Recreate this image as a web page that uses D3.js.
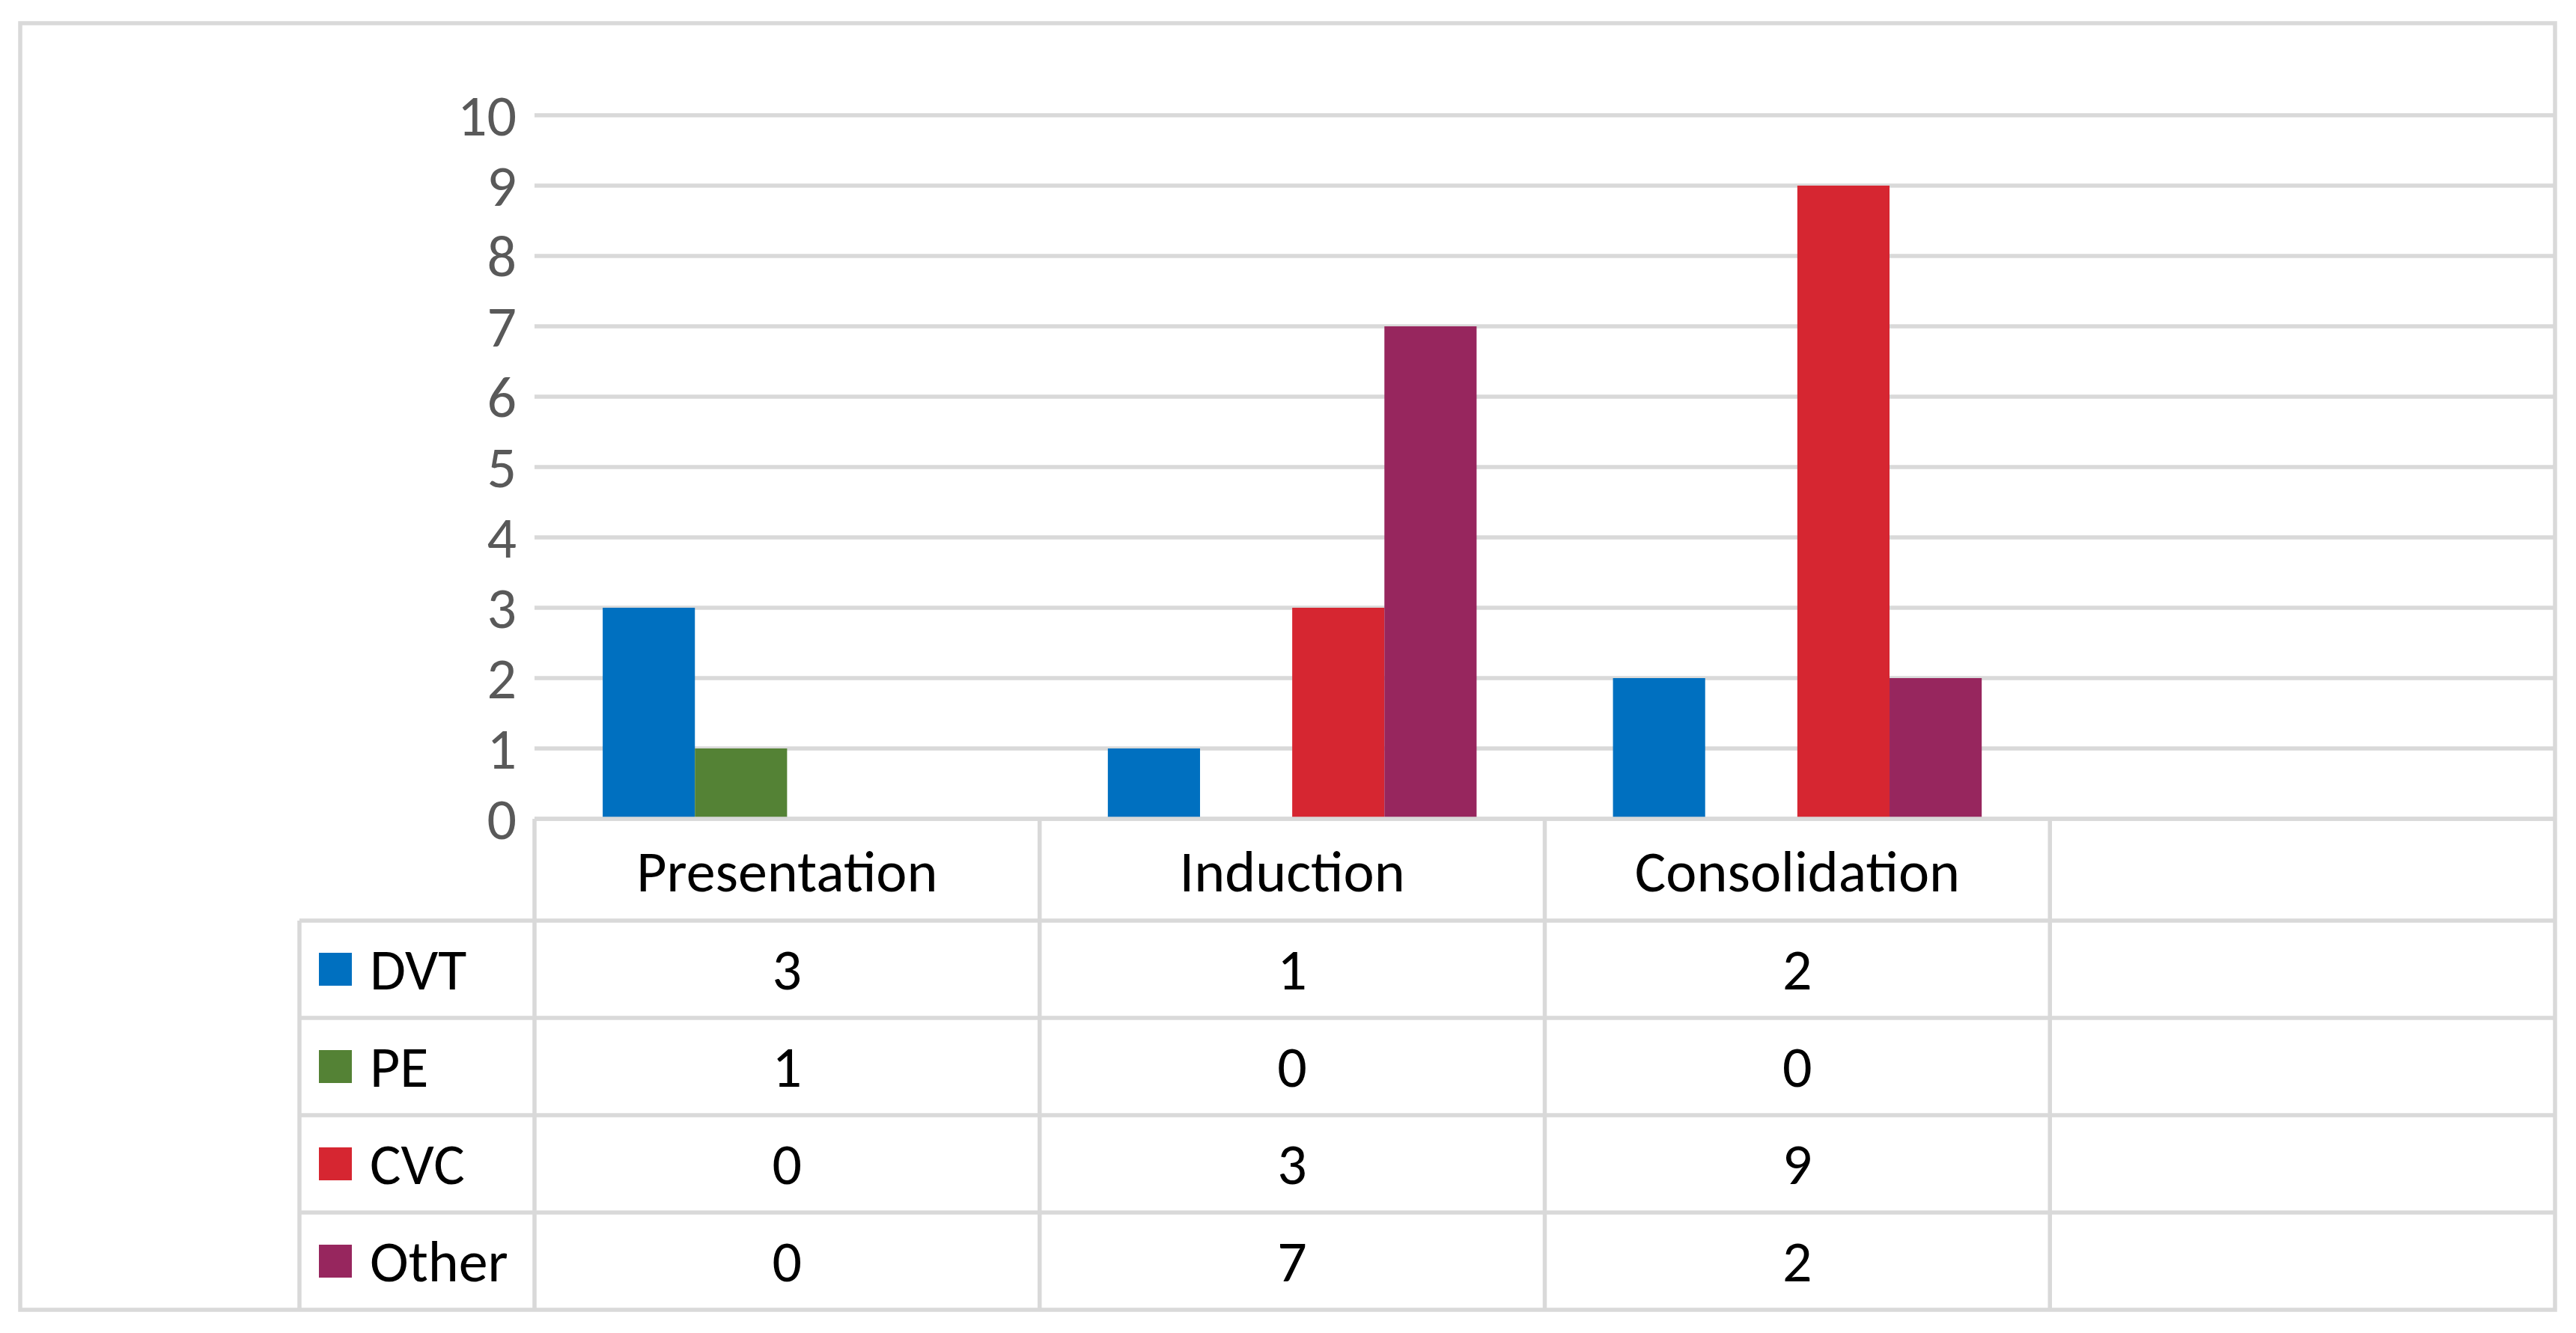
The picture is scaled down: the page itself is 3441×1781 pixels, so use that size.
<!DOCTYPE html>
<html>
<head>
<meta charset="utf-8">
<script src="https://cdn.jsdelivr.net/npm/d3@7"></script>
<style>
  html, body { margin: 0; padding: 0; background: #ffffff; }
  svg { display: block; }
  text { font-family: Carlito, Lato, "Open Sans", sans-serif; }
</style>
</head>
<body>
<script>
// ---------- data ----------
const categories = ["Presentation", "Induction", "Consolidation", ""];
const seriesNames = ["DVT", "PE", "CVC", "Other"];
const seriesColors = ["#0070C0", "#548235", "#D62631", "#97265E"];
const dvtValues   = [3, 1, 2];
const peValues    = [1, 0, 0];
const cvcValues   = [0, 3, 9];
const otherValues = [0, 7, 2];
const yTicks = [0, 1, 2, 3, 4, 5, 6, 7, 8, 9, 10];

const seriesValues = [dvtValues, peValues, cvcValues, otherValues];

// ---------- layout ----------
const W = 3441, H = 1781;
const frame = { left: 27, top: 31, right: 3413, bottom: 1750 };
const plot = { left: 714, top: 154, bottom: 1094 };
const legendLeft = 400;
const headerBottom = 1230;
const gridColor = "#d9d9d9";
const gridWidth = 5.5;
const fontSize = 78;

const svg = d3.select("body").append("svg")
  .attr("width", W).attr("height", H)
  .attr("viewBox", `0 0 ${W} ${H}`);

svg.append("rect").attr("width", W).attr("height", H).attr("fill", "#fff");

const x = d3.scaleBand().domain(categories).range([plot.left, frame.right]).padding(0);
const inner = d3.scaleBand().domain(seriesNames)
  .range([x.bandwidth() * 0.135, x.bandwidth() * 0.865]).padding(0);
const y = d3.scaleLinear().domain([0, 10]).range([plot.bottom, plot.top]);

// gridlines
svg.append("g").selectAll("line").data(yTicks).join("line")
  .attr("x1", plot.left).attr("x2", frame.right)
  .attr("y1", d => y(d)).attr("y2", d => y(d))
  .attr("stroke", gridColor).attr("stroke-width", gridWidth);

// y tick labels
svg.append("g").selectAll("text").data(yTicks).join("text")
  .attr("x", 690).attr("y", d => y(d))
  .attr("text-anchor", "end").attr("dominant-baseline", "central")
  .attr("font-size", fontSize).attr("fill", "#595959")
  .text(d => d);

// bars
const data = [];
seriesNames.forEach((s, si) => {
  seriesValues[si].forEach((v, ci) => {
    data.push({ cat: categories[ci], series: s, value: v, color: seriesColors[si] });
  });
});
svg.append("g").selectAll("rect").data(data.filter(d => d.value > 0)).join("rect")
  .attr("x", d => x(d.cat) + inner(d.series))
  .attr("width", inner.bandwidth())
  .attr("y", d => y(d.value))
  .attr("height", d => y(0) - y(d.value))
  .attr("fill", d => d.color);

// ---------- data table ----------
const rowScale = d3.scaleBand().domain(seriesNames).range([headerBottom, frame.bottom]).padding(0);
const tbl = svg.append("g").attr("stroke", gridColor).attr("stroke-width", gridWidth);

// axis line (top of table)
tbl.append("line").attr("x1", plot.left).attr("x2", frame.right)
  .attr("y1", y(0)).attr("y2", y(0));
// header bottom + row lines
tbl.selectAll("line.row").data(seriesNames).join("line").attr("class", "row")
  .attr("x1", legendLeft).attr("x2", frame.right)
  .attr("y1", d => rowScale(d)).attr("y2", d => rowScale(d));
// vertical column lines
tbl.selectAll("line.col").data(categories).join("line").attr("class", "col")
  .attr("x1", d => x(d)).attr("x2", d => x(d))
  .attr("y1", y(0)).attr("y2", frame.bottom);
// legend column left line
tbl.append("line").attr("x1", legendLeft).attr("x2", legendLeft)
  .attr("y1", headerBottom).attr("y2", frame.bottom);

// outer frame
svg.append("rect")
  .attr("x", frame.left).attr("y", frame.top)
  .attr("width", frame.right - frame.left).attr("height", frame.bottom - frame.top)
  .attr("fill", "none").attr("stroke", gridColor).attr("stroke-width", gridWidth);

// header labels
svg.append("g").selectAll("text").data(categories).join("text")
  .attr("x", d => x(d) + x.bandwidth() / 2)
  .attr("y", (y(0) + headerBottom) / 2 + 2)
  .attr("text-anchor", "middle").attr("dominant-baseline", "central")
  .attr("font-size", fontSize).attr("fill", "#000")
  .text(d => d);

// legend keys and names
const leg = svg.append("g").selectAll("g").data(seriesNames).join("g")
  .attr("transform", d => `translate(0,${rowScale(d) + rowScale.bandwidth() / 2})`);
leg.append("rect").attr("x", 426).attr("y", -22).attr("width", 44).attr("height", 44)
  .attr("fill", (d, i) => seriesColors[i]);
leg.append("text").attr("x", 494).attr("y", 0)
  .attr("dominant-baseline", "central")
  .attr("font-size", fontSize).attr("fill", "#000")
  .text(d => d);

// value cells
const cells = [];
seriesNames.forEach((s, si) => {
  seriesValues[si].forEach((v, ci) => cells.push({ series: s, cat: categories[ci], value: v }));
});
svg.append("g").selectAll("text").data(cells).join("text")
  .attr("x", d => x(d.cat) + x.bandwidth() / 2)
  .attr("y", d => rowScale(d.series) + rowScale.bandwidth() / 2)
  .attr("text-anchor", "middle").attr("dominant-baseline", "central")
  .attr("font-size", fontSize).attr("fill", "#000")
  .text(d => d.value);
</script>
</body>
</html>
